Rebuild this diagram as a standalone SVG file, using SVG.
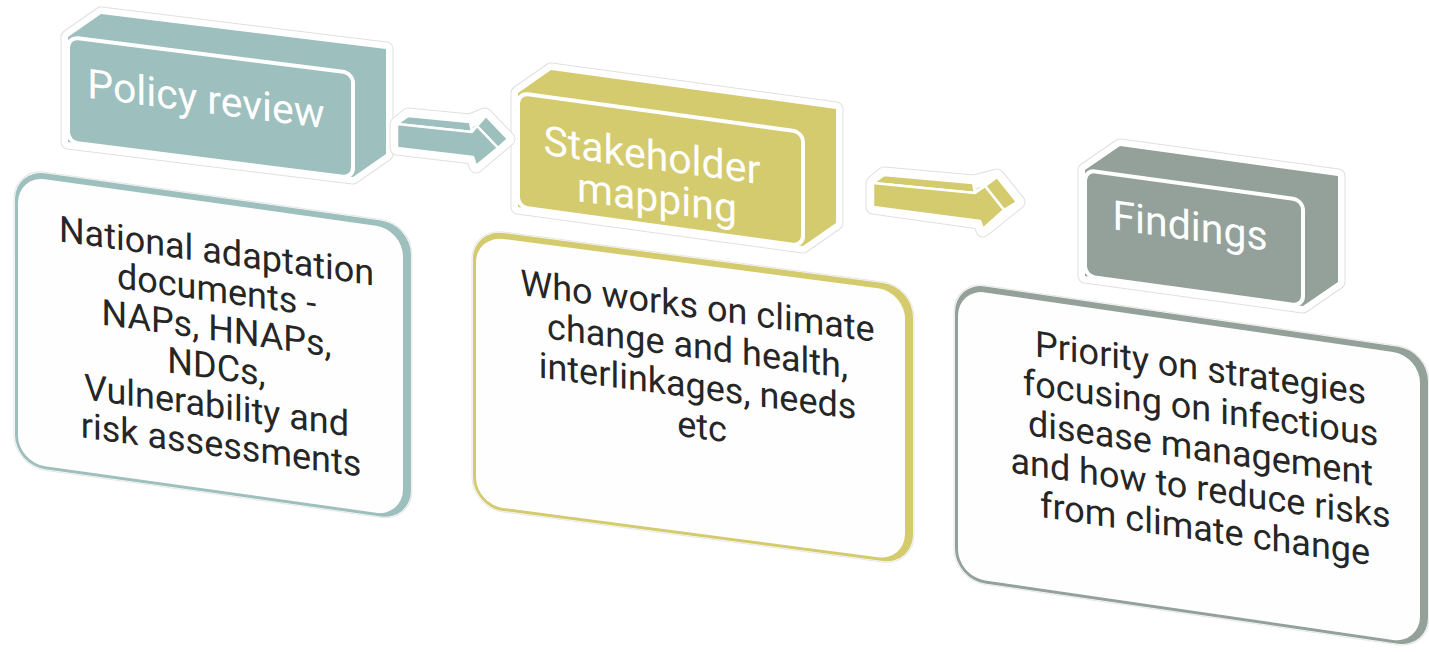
<svg xmlns="http://www.w3.org/2000/svg" width="1429" height="652" viewBox="0 0 1429 652">
<style>
.h1{fill:none;stroke:#e0e0e0;stroke-width:15;stroke-linejoin:round}
.h2{fill:none;stroke:#ffffff;stroke-width:13;stroke-linejoin:round}
.teal{fill:#9DBFBD}
.yel{fill:#D4CB6E}
.gry{fill:#93A19A}
.face{stroke:#ffffff;stroke-width:4;stroke-linejoin:round}
.aface{stroke:#ffffff;stroke-width:2.5;stroke-linejoin:round}
.inner{fill:#fefefe}
.lbl{font-family:Roboto,'Liberation Sans',sans-serif;fill:#ffffff;font-size:41px;text-anchor:middle}
.txt{font-family:Roboto,'Liberation Sans',sans-serif;fill:#262626;font-size:36px;text-anchor:middle}
</style>
<rect width="1429" height="652" fill="#ffffff"/>

<g id="panel1">
  <g transform="translate(15,169) skewY(8)">
    <rect x="-1" y="-1" width="398" height="298" rx="31" fill="none" stroke="#e6e6e6" stroke-width="1"/>
    <rect width="396" height="296" rx="30" class="teal"/>
    <rect x="3" y="6" width="385" height="287" rx="27" class="inner"/>
  </g>
  <text class="txt" transform="translate(221,264) skewY(8)">
    <tspan x="0" y="0">National adaptation</tspan>
    <tspan x="0" y="38.6">documents -</tspan>
    <tspan x="0" y="77.2">NAPs, HNAPs,</tspan>
    <tspan x="0" y="115.8">NDCs,</tspan>
    <tspan x="0" y="154.4">Vulnerability and</tspan>
    <tspan x="0" y="193">risk assessments</tspan>
  </text>
</g>

<g id="panel2">
  <g transform="translate(473,229) skewY(7.5)">
    <rect x="-1" y="-1" width="442" height="280" rx="31" fill="none" stroke="#e6e6e6" stroke-width="1"/>
    <rect width="440" height="278" rx="30" class="yel"/>
    <rect x="3" y="6" width="429" height="269" rx="27" class="inner"/>
  </g>
  <text class="txt" transform="translate(702,319) skewY(7.5)">
    <tspan x="0" y="0">Who works on climate</tspan>
    <tspan x="0" y="40">change and health,</tspan>
    <tspan x="0" y="80">interlinkages, needs</tspan>
    <tspan x="0" y="120">etc</tspan>
  </text>
</g>

<g id="panel3">
  <g transform="translate(955,282) skewY(8.3)">
    <rect x="-1" y="-1" width="475" height="299" rx="31" fill="none" stroke="#e6e6e6" stroke-width="1"/>
    <rect width="473" height="297" rx="30" class="gry"/>
    <rect x="3" y="6" width="462" height="288" rx="27" class="inner"/>
  </g>
  <text class="txt" transform="translate(1205,381) skewY(8.3)">
    <tspan x="0" y="0">Priority on strategies</tspan>
    <tspan x="0" y="40">focusing on infectious</tspan>
    <tspan x="0" y="80">disease management</tspan>
    <tspan x="0" y="120">and how to reduce risks</tspan>
    <tspan x="0" y="160">from climate change</tspan>
  </text>
</g>

<g id="box1">
  <path class="h1" d="M68,37 L101,14 L386,49 L386,154 L353,177 L68,142 Z"/>
  <path class="h2" d="M68,37 L101,14 L386,49 L386,154 L353,177 L68,142 Z"/>
  <path class="teal" d="M68,37 L101,14 L386,49 L386,154 L353,177 L68,142 Z"/>
  <rect class="teal face" transform="translate(68,37) skewY(7.2)" width="285" height="105" rx="10"/>
  <text class="lbl" transform="translate(206,113) skewY(7.3)">Policy review</text>
</g>

<g id="box2">
  <path class="h1" d="M518,93 L551,70 L836,109 L836,223 L803,246 L518,207 Z"/>
  <path class="h2" d="M518,93 L551,70 L836,109 L836,223 L803,246 L518,207 Z"/>
  <path class="yel" d="M518,93 L551,70 L836,109 L836,223 L803,246 L518,207 Z"/>
  <rect class="yel face" transform="translate(518,93) skewY(7.8)" width="285" height="114" rx="10"/>
  <text class="lbl" transform="translate(657,170) skewY(7.8)">
    <tspan x="0" y="0">Stakeholder</tspan>
    <tspan x="0" y="42">mapping</tspan>
  </text>
</g>

<g id="box3">
  <path class="h1" d="M1085,170 L1120,146 L1338,176 L1338,282 L1303,306 L1085,276 Z"/>
  <path class="h2" d="M1085,170 L1120,146 L1338,176 L1338,282 L1303,306 L1085,276 Z"/>
  <path class="gry" d="M1085,170 L1120,146 L1338,176 L1338,282 L1303,306 L1085,276 Z"/>
  <rect class="gry face" transform="translate(1085,170) skewY(7.85)" width="218" height="106" rx="10"/>
  <text class="lbl" transform="translate(1190,240) skewY(7.9)">Findings</text>
</g>

<g id="connectors">
  <g id="arrow1">
    <path class="h1" d="M397,124 L408,115 L470,121 L485,115 L508,139 L476,166 L473,157 L397,148 Z"/>
    <path class="h2" d="M397,124 L408,115 L470,121 L485,115 L508,139 L476,166 L473,157 L397,148 Z"/>
    <path class="teal aface" d="M397,124 L408,116 L470,122 L472,132 Z"/>
    <path class="teal aface" d="M477,126 L486,116 L508,139 L498,148 Z"/>
    <path class="teal aface" d="M397,124 L472,132 L477,126 L498,148 L476,166 L473,157 L397,148 Z"/>
  </g>
  <g id="arrow2">
    <path class="h1" d="M873,183 L884,174 L974,182 L997,176 L1018,202 L983,230 L980,222 L873,207 Z"/>
    <path class="h2" d="M873,183 L884,174 L974,182 L997,176 L1018,202 L983,230 L980,222 L873,207 Z"/>
    <path class="yel aface" d="M873,183 L884,175 L973,183 L975,193 Z"/>
    <path class="yel aface" d="M985,186 L997,177 L1017,202 L1004,210 Z"/>
    <path class="yel aface" d="M873,183 L975,193 L985,186 L1004,210 L983,229 L980,221 L873,207 Z"/>
  </g>
</g>
</svg>
